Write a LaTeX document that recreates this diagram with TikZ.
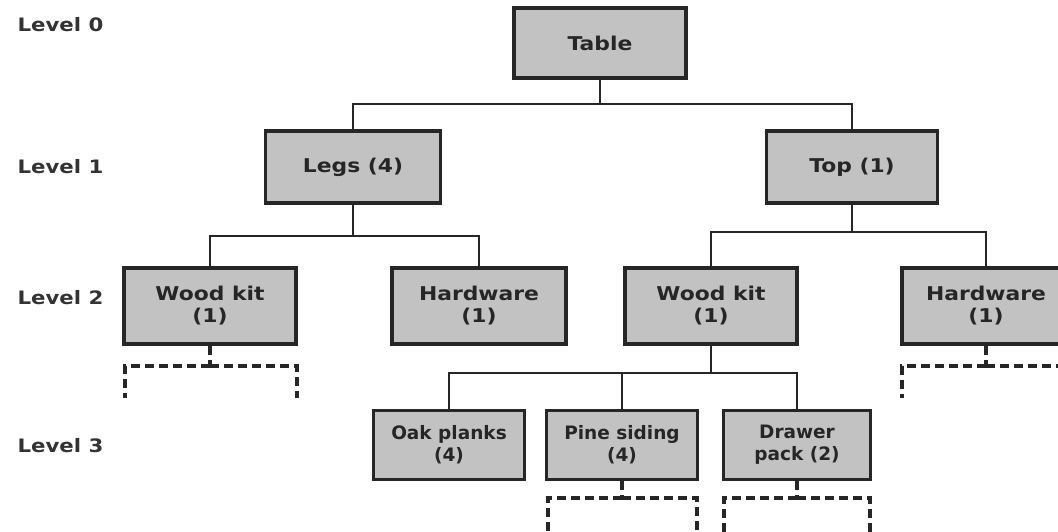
\documentclass[tikz,border=0pt]{standalone}
\usepackage{fontspec}
\setmainfont[FakeStretch=1.15]{DejaVu Sans}
\newfontfamily\narrowfam{DejaVu Sans}
\begin{document}
\begin{tikzpicture}[x=1pt,y=-1pt,
  part/.style={draw=black!85, line width=3.4pt, fill=black!24, align=center,
    font=\bfseries\fontsize{19}{22}\selectfont, text=black!85, inner sep=0pt},
  smallpart/.style={part, font=\narrowfam\bfseries\fontsize{18.5}{22}\selectfont},
  lvl/.style={anchor=west, font=\bfseries\fontsize{18.5}{20}\selectfont, text=black!80},
  link/.style={draw=black!85, line width=2.2pt},
  stub/.style={draw=black!85, line width=3.2pt, dash pattern=on 9pt off 5pt}]
\useasboundingbox (0,0) rectangle (1058,532);
\clip (0,0) rectangle (1058,532);
% level labels
\node[lvl] (l0) at (14,25) {Level 0};
\node[lvl] (l1) at (14,167) {Level 1};
\node[lvl] (l2) at (14,298) {Level 2};
\node[lvl] (l3) at (14,446) {Level 3};
% boxes
\node[part, minimum width=172pt, minimum height=70pt] (table) at (600,43) {Table};
\node[part, minimum width=175pt, minimum height=72pt] (legs) at (353,167) {Legs (4)};
\node[part, minimum width=171pt, minimum height=72pt] (top) at (852,167) {Top (1)};
\node[part, minimum width=172pt, minimum height=76pt] (wkl) at (210,306) {Wood kit\\(1)};
\node[part, minimum width=174pt, minimum height=76pt] (hwl) at (479,306) {Hardware\\(1)};
\node[part, minimum width=172pt, minimum height=76pt] (wkr) at (711,306) {Wood kit\\(1)};
\node[part, minimum width=168pt, minimum height=76pt] (hwr) at (986,306) {Hardware\\(1)};
\node[smallpart, minimum width=151pt, minimum height=69pt] (oak) at (449,445) {Oak planks\\(4)};
\node[smallpart, minimum width=151pt, minimum height=69pt] (pine) at (622,445) {Pine siding\\(4)};
\node[smallpart, minimum width=147pt, minimum height=69pt] (drawer) at (797,445) {Drawer\\pack (2)};
% solid connectors
\coordinate (b0) at (600,104);
\draw[link] (table.south) -- (b0);
\draw[link] (b0) -| (legs.north);
\draw[link] (b0) -| (top.north);
\coordinate (b1) at (353,236);
\draw[link] (legs.south) -- (b1);
\draw[link] (b1) -| (wkl.north);
\draw[link] (b1) -| (hwl.north);
\coordinate (b2) at (852,232);
\draw[link] (top.south) -- (b2);
\draw[link] (b2) -| (wkr.north);
\draw[link] (b2) -| (hwr.north);
\coordinate (b3) at (711,373);
\draw[link] (wkr.south) -- (b3);
\draw[link] (b3) -| (oak.north);
\draw[link] (b3) -| (pine.north);
\draw[link] (b3) -| (drawer.north);
% dashed stubs
\coordinate (s1) at (210,366);
\coordinate (s1a) at (125,398);
\coordinate (s1b) at (297,398);
\draw[stub] (wkl.south) -- (s1);
\draw[stub] (s1) -| (s1a);
\draw[stub] (s1) -| (s1b);
\coordinate (s2) at (986,366);
\coordinate (s2a) at (902,398);
\coordinate (s2b) at (1070,398);
\draw[stub] (hwr.south) -- (s2);
\draw[stub] (s2) -| (s2a);
\draw[stub] (s2) -| (s2b);
\coordinate (s3) at (622,498);
\coordinate (s3a) at (548,540);
\coordinate (s3b) at (697,540);
\draw[stub] (pine.south) -- (s3);
\draw[stub] (s3) -| (s3a);
\draw[stub] (s3) -| (s3b);
\coordinate (s4) at (797,498);
\coordinate (s4a) at (724,540);
\coordinate (s4b) at (870,540);
\draw[stub] (drawer.south) -- (s4);
\draw[stub] (s4) -| (s4a);
\draw[stub] (s4) -| (s4b);
\end{tikzpicture}
\end{document}
